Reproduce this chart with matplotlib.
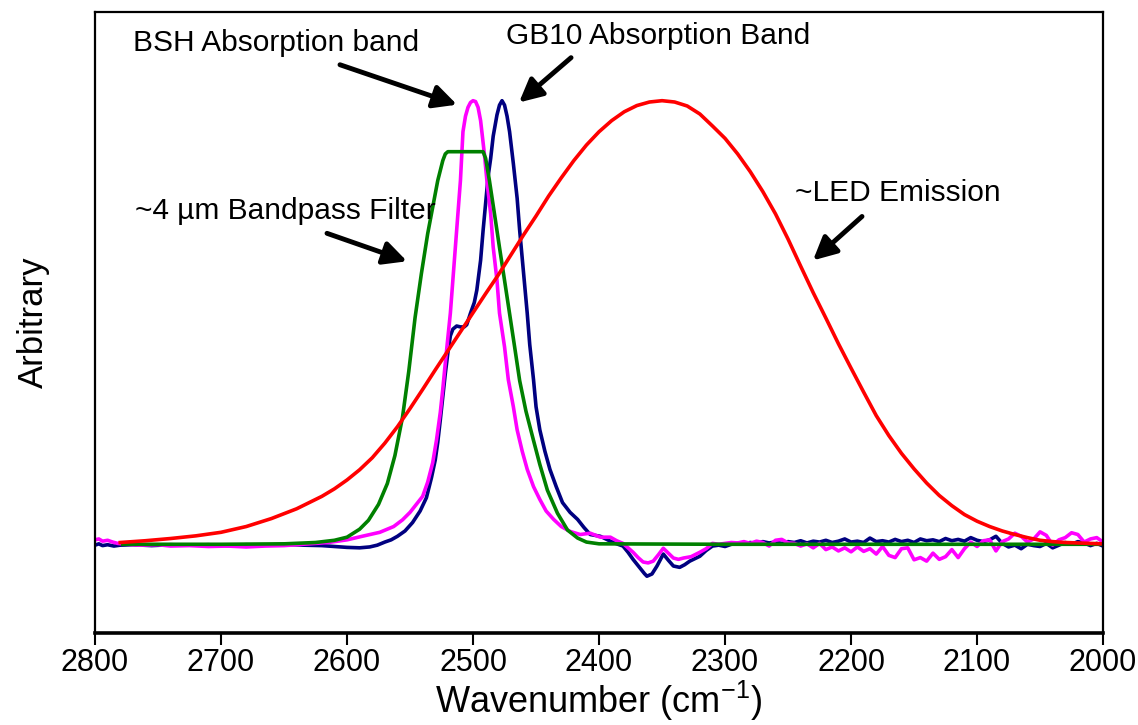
import numpy as np
import matplotlib
matplotlib.use("Agg")
import matplotlib.pyplot as plt

plt.rcParams['font.family'] = ['Liberation Sans', 'DejaVu Sans']
plt.rcParams['mathtext.fontset'] = 'custom'
plt.rcParams['mathtext.rm'] = 'Liberation Sans'

# ~LED emission (red)
led_w = [2780, 2760, 2740, 2720, 2700, 2680, 2660, 2640, 2620, 2610, 2600, 2590, 2580,
         2570, 2560, 2550, 2540, 2530, 2520, 2510, 2500, 2490, 2480, 2470, 2460, 2450,
         2440, 2430, 2420, 2410, 2400, 2390, 2380, 2370, 2360, 2350, 2340, 2330, 2320,
         2310, 2300, 2290, 2280, 2270, 2260, 2250, 2240, 2230, 2220, 2210, 2200, 2190,
         2180, 2170, 2160, 2150, 2140, 2130, 2120, 2110, 2100, 2090, 2080, 2070, 2060,
         2050, 2040, 2030, 2020, 2010, 2000]
led_v = [0.004, 0.008, 0.013, 0.019, 0.027, 0.040, 0.058, 0.080, 0.108, 0.125, 0.145, 0.168, 0.195,
         0.228, 0.265, 0.306, 0.349, 0.393, 0.436, 0.479, 0.522, 0.565, 0.607, 0.652, 0.697, 0.740,
         0.785, 0.826, 0.865, 0.900, 0.930, 0.955, 0.975, 0.989, 0.997, 1.000, 0.997, 0.988, 0.970,
         0.943, 0.915, 0.880, 0.840, 0.795, 0.745, 0.688, 0.627, 0.567, 0.510, 0.452, 0.397, 0.343,
         0.290, 0.245, 0.205, 0.170, 0.138, 0.110, 0.087, 0.067, 0.052, 0.040, 0.030, 0.022, 0.015,
         0.009, 0.006, 0.004, 0.003, 0.002, 0.001]

# ~4 um bandpass filter (green)
filt_w = [2778, 2700, 2650, 2625, 2610, 2600, 2590, 2583, 2575, 2568, 2562, 2556, 2551,
          2546, 2541, 2536, 2532, 2528, 2524, 2522, 2520, 2492, 2490, 2487, 2483, 2479,
          2475, 2471, 2467, 2463, 2458, 2452, 2447, 2441, 2433, 2425, 2417, 2410, 2400,
          2300, 2000]
filt_v = [0, 0, 0.001, 0.004, 0.009, 0.016, 0.034, 0.054, 0.09, 0.137, 0.20, 0.286, 0.39,
          0.511, 0.61, 0.70, 0.76, 0.82, 0.865, 0.88, 0.885, 0.885, 0.87, 0.82, 0.745, 0.669,
          0.595, 0.52, 0.445, 0.369, 0.30, 0.234, 0.18, 0.122, 0.07, 0.032, 0.014, 0.005, 0.001,
          0, 0]

# BSH absorption (magenta)
bsh_w = [2800, 2797, 2794, 2790, 2786, 2782, 2775, 2765, 2750, 2740, 2725, 2710, 2695,
         2680, 2665, 2650, 2640, 2630, 2615, 2600, 2588, 2574, 2563, 2556, 2550, 2545,
         2540, 2536, 2532, 2529, 2526, 2524, 2522, 2520, 2518, 2516, 2514, 2512, 2510,
         2508, 2506, 2504, 2502, 2500, 2498, 2496, 2494, 2491, 2489, 2486, 2484, 2481,
         2479, 2475, 2472, 2468, 2465, 2461, 2457, 2452, 2447, 2442, 2436, 2430, 2423,
         2415, 2407, 2399, 2391, 2386, 2381, 2377, 2373, 2369, 2365, 2361, 2357, 2353,
         2349, 2345, 2341, 2337, 2333, 2327, 2320, 2315, 2310, 2305]
bsh_v = [0.010, 0.012, 0.007, 0.009, 0.005, 0.002, 0.0, -0.002, -0.001, -0.004, -0.003, -0.005, -0.004,
         -0.006, -0.004, -0.003, -0.001, 0.001, 0.004, 0.010, 0.018, 0.027, 0.040, 0.055, 0.072, 0.09,
         0.108, 0.14, 0.184, 0.235, 0.297, 0.35, 0.409, 0.465, 0.521, 0.595, 0.670, 0.745, 0.820,
         0.93, 0.965, 0.985, 0.996, 1.0, 0.998, 0.985, 0.955, 0.88, 0.82, 0.745, 0.670, 0.595,
         0.521, 0.445, 0.371, 0.31, 0.258, 0.21, 0.169, 0.13, 0.101, 0.075, 0.056, 0.04, 0.029,
         0.022, 0.025, 0.016, 0.016, 0.008, 0.002, -0.008, -0.018, -0.03, -0.040, -0.042, -0.038, -0.024,
         -0.009, -0.02, -0.031, -0.034, -0.031, -0.028, -0.018, -0.01, 0.002, 0.0]

# GB10 absorption (navy)
gb_w = [2800, 2797, 2794, 2790, 2785, 2780, 2770, 2755, 2740, 2725, 2710, 2695, 2680,
        2665, 2650, 2635, 2620, 2610, 2600, 2590, 2582, 2576, 2570, 2565, 2560, 2554,
        2548, 2542, 2537, 2533, 2530, 2528, 2526, 2524, 2522, 2520, 2518, 2516, 2513,
        2510, 2507, 2505, 2502, 2499, 2497, 2494, 2492, 2490, 2488, 2486, 2484, 2481,
        2479, 2477, 2475, 2473, 2471, 2468, 2465, 2463, 2460, 2457, 2455, 2452, 2450,
        2447, 2443, 2439, 2434, 2429, 2423, 2417, 2412, 2407, 2399, 2391, 2385, 2381,
        2377, 2373, 2368, 2364, 2362, 2358, 2354, 2349, 2345, 2341, 2336, 2332, 2328,
        2320, 2315, 2310, 2305]
gb_v = [-0.002, 0.001, -0.003, -0.001, -0.004, -0.002, -0.001, -0.003, -0.001, -0.002, -0.001, -0.003, -0.001,
        -0.002, 0.0, -0.002, -0.003, -0.005, -0.007, -0.008, -0.006, -0.002, 0.005, 0.010, 0.018, 0.030,
        0.049, 0.075, 0.105, 0.15, 0.19, 0.23, 0.28, 0.333, 0.385, 0.431, 0.47, 0.485, 0.492,
        0.49, 0.49, 0.495, 0.521, 0.545, 0.573, 0.64, 0.708, 0.77, 0.83, 0.87, 0.92, 0.968,
        0.99, 1.0, 0.99, 0.965, 0.93, 0.858, 0.78, 0.708, 0.615, 0.521, 0.45, 0.371, 0.31,
        0.258, 0.21, 0.169, 0.13, 0.094, 0.072, 0.056, 0.038, 0.022, 0.018, 0.007, 0.0, -0.004,
        -0.018, -0.034, -0.052, -0.066, -0.072, -0.067, -0.049, -0.022, -0.036, -0.049, -0.052, -0.046, -0.038,
        -0.027, -0.014, -0.004, -0.002]

# noisy tails 2300 -> 2000 cm-1, every 5 cm-1
tail_w = np.arange(2300, 1999, -5)
bsh_tail = [0.002, 0.004, 0.003, 0.006, 0.002, 0.007, 0.004, -0.004, 0.009, 0.011, 0.003, 0.002, -0.004,
            0.001, -0.008, 0.002, -0.012, -0.006, -0.015, -0.008, -0.017, -0.006, -0.016, -0.010, -0.022,
            -0.005, -0.025, -0.030, -0.010, -0.008, -0.035, -0.030, -0.038, -0.020, -0.034, -0.028, -0.012,
            -0.030, -0.010, 0.005, -0.005, 0.008, 0.010, -0.015, 0.006, 0.012, 0.025, 0.018, 0.005, 0.012,
            0.028, 0.020, -0.002, 0.010, 0.015, 0.026, 0.022, 0.005, 0.012, 0.015, 0.005]
gb_tail = [-0.005, 0.000, 0.002, 0.001, 0.004, 0.002, 0.006, 0.003, 0.005, 0.002, 0.006, 0.004, 0.008,
           0.003, 0.007, 0.005, 0.009, 0.004, 0.007, 0.012, 0.005, 0.007, 0.004, 0.014, 0.006, 0.008,
           0.005, 0.011, 0.006, 0.009, 0.004, 0.012, 0.008, 0.010, 0.006, 0.013, 0.008, 0.011, 0.007,
           0.015, 0.009, 0.006, 0.010, 0.018, 0.002, -0.006, -0.002, -0.010, 0.000, -0.003, -0.005,
           0.002, -0.008, -0.002, 0.004, 0.000, 0.006, 0.003, -0.003, 0.002, -0.004]

fig = plt.figure(figsize=(11.38, 7.25), dpi=100)
ax = fig.add_axes([0.0835, 0.1269, 0.8858, 0.8566])

lw = 2.6
ax.plot(np.concatenate([gb_w, tail_w]), np.concatenate([gb_v, gb_tail]), color='#000080', lw=lw)
ax.plot(np.concatenate([bsh_w, tail_w]), np.concatenate([bsh_v, bsh_tail]), color='#FF00FF', lw=lw)
ax.plot(filt_w, filt_v, color='#008000', lw=lw)
ax.plot(led_w, led_v, color='#FF0000', lw=lw)

ax.set_xlim(2800, 2000)
ax.set_ylim(-0.2, 1.2)
ax.set_xticks(np.arange(2800, 1999, -100))
ax.set_yticks([])
for s in ['top', 'left', 'right']:
    ax.spines[s].set_linewidth(1.6)
ax.spines['bottom'].set_linewidth(2.6)
ax.tick_params(axis='x', direction='out', length=8.5, width=1.5, pad=2, labelsize=22)

ax.set_xlabel('Wavenumber (cm$^{\\mathrm{-1}}$)', fontsize=26)
ax.xaxis.set_label_coords(0.5, -0.074)
ax.set_ylabel('Arbitrary', fontsize=25)
ax.yaxis.set_label_coords(-0.045, 0.5)

arrow = dict(arrowstyle='-|>,head_length=0.7,head_width=0.35', lw=3.5, color='black',
             mutation_scale=20, shrinkA=0, shrinkB=0)
ax.annotate('', xy=(2512.7, 0.991), xytext=(2605.6, 1.081), arrowprops=arrow)
ax.annotate('', xy=(2463.5, 0.996), xytext=(2422.2, 1.097), arrowprops=arrow)
ax.annotate('', xy=(2552.4, 0.638), xytext=(2615.9, 0.701), arrowprops=arrow)
ax.annotate('', xy=(2230.2, 0.640), xytext=(2191.3, 0.739), arrowprops=arrow)

ax.text(2769.8, 1.130, 'BSH Absorption band', fontsize=21.5, va='center', ha='left')
ax.text(2473.8, 1.146, 'GB10 Absorption Band', fontsize=21.5, va='center', ha='left')
ax.text(2768.3, 0.751, '~4 \u00b5m Bandpass Filter', fontsize=21.5, va='center', ha='left')
ax.text(2244.4, 0.791, '~LED Emission', fontsize=21.5, va='center', ha='left')

fig.savefig('out.png', dpi=100)
